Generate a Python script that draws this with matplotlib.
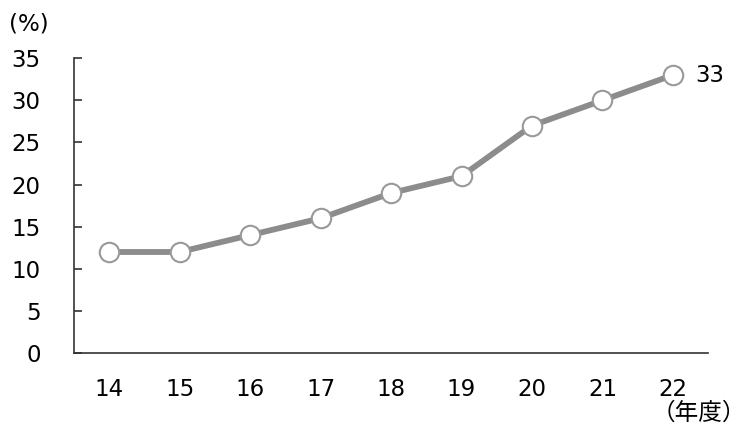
import matplotlib.pyplot as plt

plt.rcParams['font.family'] = ['DejaVu Sans', 'Noto Sans CJK JP']

years = ['14', '15', '16', '17', '18', '19', '20', '21', '22']
values = [12, 12, 14, 16, 19, 21, 27, 30, 33]

fig = plt.figure(figsize=(7.47, 4.28), dpi=100)
ax = fig.add_axes([0.099, 0.175, 0.849, 0.689])

x = range(len(years))
ax.plot(x, values, color='#8c8c8c', linewidth=4.2, marker='o', markersize=14,
        markerfacecolor='white', markeredgecolor='#999999', markeredgewidth=1.5, zorder=3)

ax.set_xlim(-0.5, len(years) - 0.5)
ax.set_ylim(0, 35)
ax.set_yticks(range(0, 36, 5))
ax.set_xticks(list(x))
ax.set_xticklabels(years)

ax.spines['top'].set_visible(False)
ax.spines['right'].set_visible(False)
ax.spines['left'].set_color('#333333')
ax.spines['bottom'].set_color('#333333')
ax.spines['left'].set_linewidth(1.2)
ax.spines['bottom'].set_linewidth(1.2)
ax.tick_params(axis='y', direction='in', length=6, width=1.2, color='#333333', labelsize=16.5, pad=24)
ax.tick_params(axis='x', length=0, labelsize=16.5, pad=18)

ax.annotate(str(values[-1]), (len(years) - 1, values[-1]), xytext=(16, 0),
            textcoords='offset points', va='center', ha='left', fontsize=16.5)
fig.text(0.012, 0.945, '(%)', fontsize=16.5, va='center')
fig.text(0.999, 0.035, '（年度）', fontsize=17, va='center', ha='right')

fig.savefig('out.png', dpi=100)
